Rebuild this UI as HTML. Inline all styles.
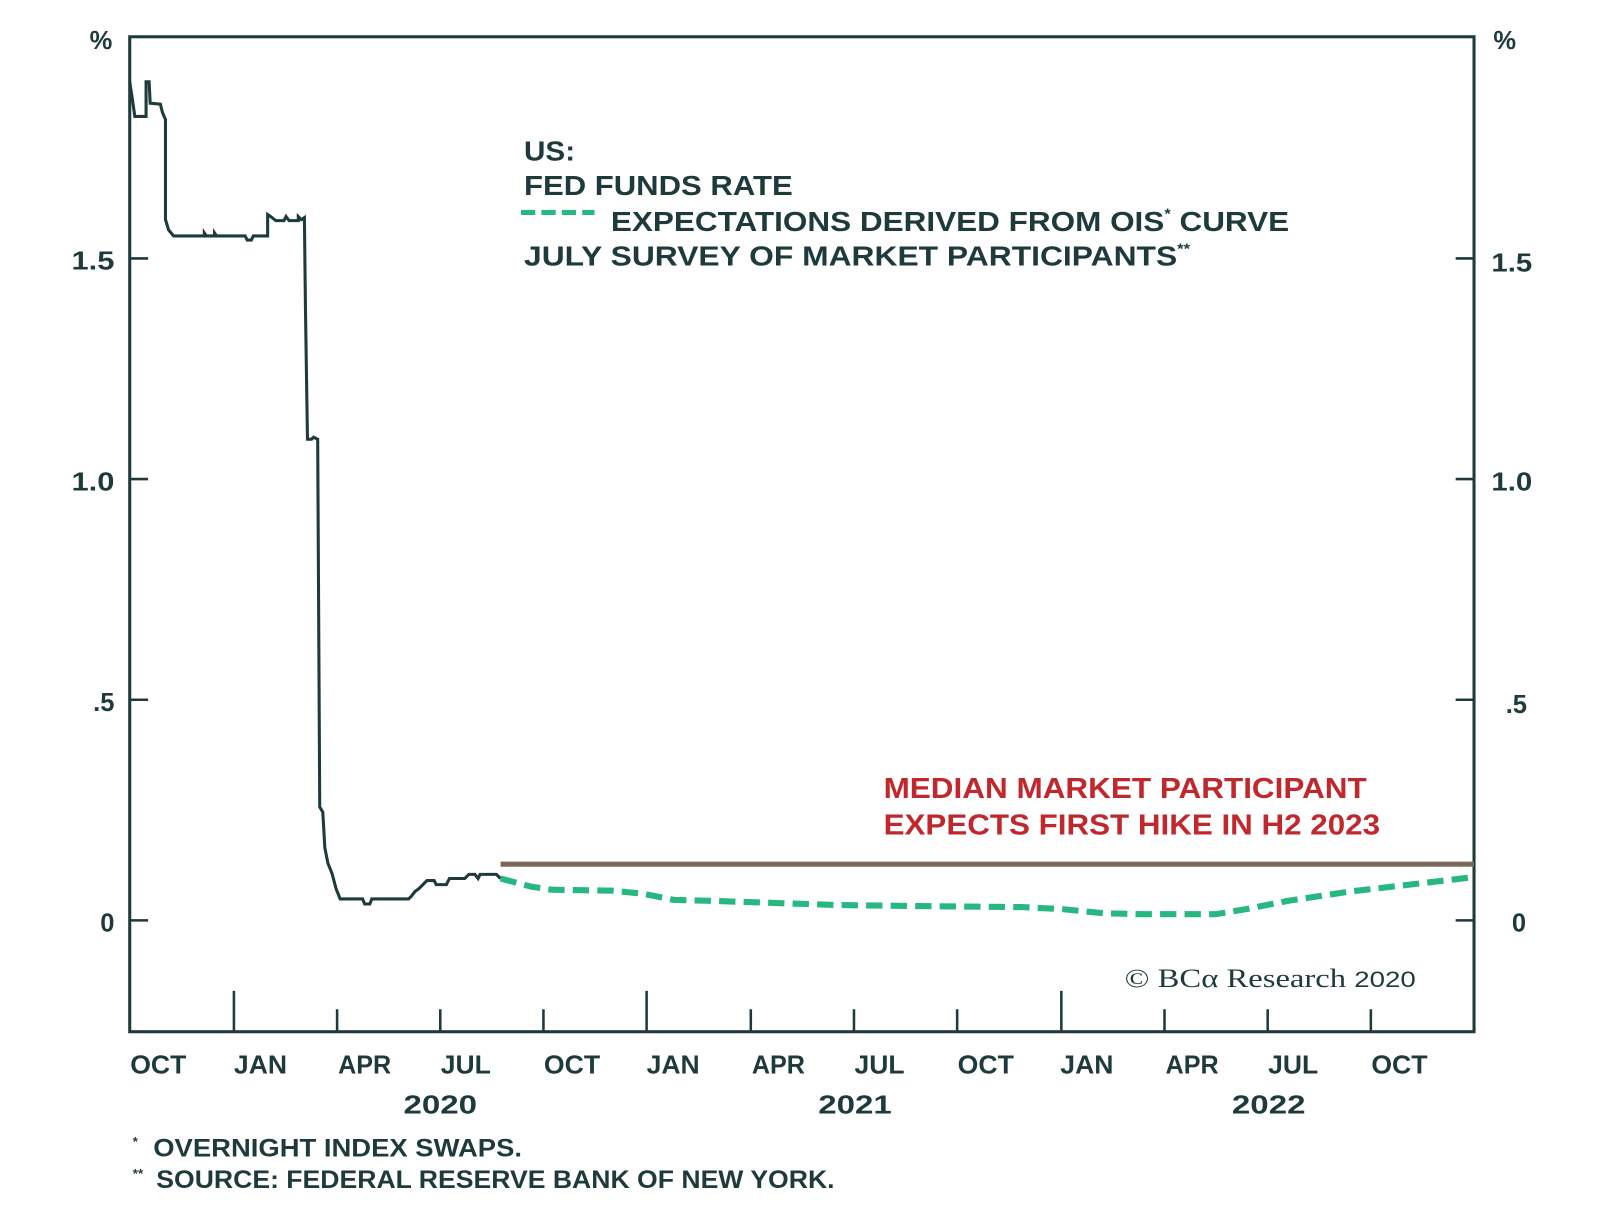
<!DOCTYPE html>
<html><head><meta charset="utf-8"><style>
html,body{margin:0;padding:0;background:#fff;}
svg{display:block;}
text{font-family:"Liberation Sans",sans-serif;font-weight:bold;fill:#1f3a3a;}
</style></head><body>
<svg width="1600" height="1211" viewBox="0 0 1600 1211" xmlns="http://www.w3.org/2000/svg">
<g transform="scale(1.0215)">
<rect x="127" y="36" width="1316" height="974" fill="none" stroke="#1f3a3a" stroke-width="3"/>
<g stroke="#1f3a3a" stroke-width="2.5">
<line x1="127" y1="253" x2="145" y2="253"/><line x1="127" y1="469" x2="145" y2="469"/><line x1="127" y1="685" x2="145" y2="685"/><line x1="127" y1="901" x2="145" y2="901"/>
<line x1="1425" y1="253" x2="1443" y2="253"/><line x1="1425" y1="469" x2="1443" y2="469"/><line x1="1425" y1="685" x2="1443" y2="685"/><line x1="1425" y1="901" x2="1443" y2="901"/>
<line x1="229" y1="970" x2="229" y2="1010"/><line x1="330" y1="988" x2="330" y2="1010"/><line x1="431" y1="988" x2="431" y2="1010"/><line x1="532" y1="988" x2="532" y2="1010"/>
<line x1="633" y1="970" x2="633" y2="1010"/><line x1="735" y1="988" x2="735" y2="1010"/><line x1="836" y1="988" x2="836" y2="1010"/><line x1="937" y1="988" x2="937" y2="1010"/>
<line x1="1039" y1="970" x2="1039" y2="1010"/><line x1="1140" y1="988" x2="1140" y2="1010"/><line x1="1241" y1="988" x2="1241" y2="1010"/><line x1="1342" y1="988" x2="1342" y2="1010"/>
</g>
<g font-size="25" text-anchor="end">
<text x="110" y="48">%</text><text x="112" y="264" textLength="42" lengthAdjust="spacingAndGlyphs">1.5</text><text x="112" y="480" textLength="42" lengthAdjust="spacingAndGlyphs">1.0</text><text x="112" y="696">.5</text><text x="112" y="912">0</text>
</g>
<g font-size="25" text-anchor="start">
<text x="1462" y="48">%</text><text x="1460" y="266" textLength="40" lengthAdjust="spacingAndGlyphs">1.5</text><text x="1460" y="480" textLength="40" lengthAdjust="spacingAndGlyphs">1.0</text><text x="1474" y="698">.5</text><text x="1480" y="912">0</text>
</g>
<g font-size="25" text-anchor="middle">
<text x="155" y="1051" textLength="55" lengthAdjust="spacingAndGlyphs">OCT</text><text x="255" y="1051" textLength="52" lengthAdjust="spacingAndGlyphs">JAN</text><text x="357" y="1051" textLength="52" lengthAdjust="spacingAndGlyphs">APR</text><text x="456" y="1051" textLength="49" lengthAdjust="spacingAndGlyphs">JUL</text>
<text x="560" y="1051" textLength="55" lengthAdjust="spacingAndGlyphs">OCT</text><text x="659" y="1051" textLength="52" lengthAdjust="spacingAndGlyphs">JAN</text><text x="762" y="1051" textLength="52" lengthAdjust="spacingAndGlyphs">APR</text><text x="861" y="1051" textLength="49" lengthAdjust="spacingAndGlyphs">JUL</text>
<text x="965" y="1051" textLength="55" lengthAdjust="spacingAndGlyphs">OCT</text><text x="1064" y="1051" textLength="52" lengthAdjust="spacingAndGlyphs">JAN</text><text x="1167" y="1051" textLength="52" lengthAdjust="spacingAndGlyphs">APR</text><text x="1266" y="1051" textLength="49" lengthAdjust="spacingAndGlyphs">JUL</text><text x="1370" y="1051" textLength="55" lengthAdjust="spacingAndGlyphs">OCT</text>
<text x="431" y="1090" textLength="72" lengthAdjust="spacingAndGlyphs">2020</text><text x="837" y="1090" textLength="72" lengthAdjust="spacingAndGlyphs">2021</text><text x="1242" y="1090" textLength="72" lengthAdjust="spacingAndGlyphs">2022</text>
</g>
<polyline fill="none" stroke="#1f3a3a" stroke-width="3" stroke-linejoin="miter" points="127,80 130,100 132,114 143,114 143,80 146,80 147,101 157,102 159,110 162,117 162,215 165,225 170,231 200,231 200,228 202,231 210,231 210,228 212,231 240,231 242,235 246,235 248,231 262,231 262,210 265,212 270,216 278,216 280,212 283,216 292,216 292,212 295,215 298,213 299,300 301,430 305,430 307,428 311,430 313,790 316,795 318,830 321,845 325,855 329,870 333,880 355,880 357,885 362,885 364,880 400,880 403,877 406,873 410,870 414,866 418,862 425,862 427,866 437,866 440,860 455,860 459,856 465,856 468,860 470,856 486,856 490,860"/>
<polyline fill="none" stroke="#27b882" stroke-width="6" stroke-dasharray="16,8" points="490,860 520,868 540,871 600,872 630,875 660,881 700,882 760,884 820,886 900,887 1000,888 1040,890 1080,894 1120,895 1190,895 1220,890 1260,882 1320,873 1380,866 1440,859"/>
<line x1="490" y1="846" x2="1443" y2="846" stroke="#7a6a5a" stroke-width="5"/>
<g font-size="27">
<text x="513" y="157" textLength="50" lengthAdjust="spacingAndGlyphs">US:</text>
<text x="513" y="191" textLength="263" lengthAdjust="spacingAndGlyphs">FED FUNDS RATE</text>
<line x1="510" y1="208" x2="582" y2="208" stroke="#27b882" stroke-width="5" stroke-dasharray="14,6"/>
<text x="598" y="226" textLength="664" lengthAdjust="spacingAndGlyphs">EXPECTATIONS DERIVED FROM OIS<tspan font-size="14" dy="-12">*</tspan><tspan dy="12"> CURVE</tspan></text>
<text x="513" y="260" textLength="652" lengthAdjust="spacingAndGlyphs">JULY SURVEY OF MARKET PARTICIPANTS<tspan font-size="14" dy="-12">**</tspan></text>
</g>
<g font-size="28">
<text x="865" y="781" style="fill:#c0282d" textLength="473" lengthAdjust="spacingAndGlyphs">MEDIAN MARKET PARTICIPANT</text>
<text x="865" y="817" style="fill:#c0282d" textLength="486" lengthAdjust="spacingAndGlyphs">EXPECTS FIRST HIKE IN H2 2023</text>
</g>
<text x="1101" y="966" font-size="26" textLength="285" lengthAdjust="spacingAndGlyphs" style="font-family:'Liberation Serif',serif;font-weight:normal;">© BCα Research <tspan font-size="22" style="font-family:'Liberation Sans',sans-serif;font-weight:normal">2020</tspan></text>
<g font-size="24">
<text x="130" y="1132"><tspan font-size="13" dy="-10">*</tspan></text>
<text x="150" y="1132" textLength="361" lengthAdjust="spacingAndGlyphs">OVERNIGHT INDEX SWAPS.</text>
<text x="130" y="1163"><tspan font-size="13" dy="-10">**</tspan></text>
<text x="153" y="1163" textLength="664" lengthAdjust="spacingAndGlyphs">SOURCE: FEDERAL RESERVE BANK OF NEW YORK.</text>
</g>
</g>
</svg>
</body></html>
